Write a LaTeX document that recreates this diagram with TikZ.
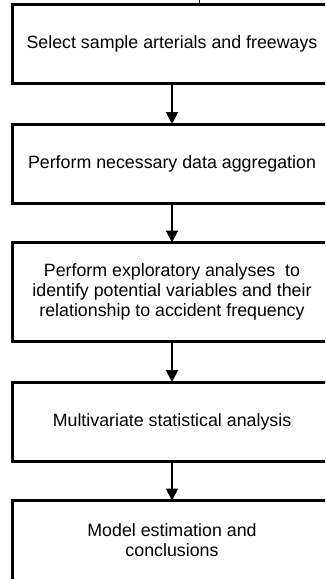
\documentclass[tikz,border=0pt]{standalone}
\usepackage{fontspec}
\setmainfont{Liberation Sans}
\usetikzlibrary{arrows.meta}
\begin{document}
\begin{tikzpicture}[x=1pt,y=-1pt,
  stepbox/.style={draw=black,line width=3pt,minimum width=320pt,align=center,inner sep=0pt,outer sep=0pt,
    font=\fontsize{17.8}{20.2}\selectfont},
  flow/.style={line width=2pt,-{Triangle[width=12pt,length=12pt]}}]
\useasboundingbox (0,0) rectangle (325,579);
\clip (0,0) rectangle (325,579);
\node[stepbox,minimum height=79pt] (s1) at (172,44) {Select sample arterials and freeways};
\node[stepbox,minimum height=79.5pt] (s2) at (172,163.75) {Perform necessary data aggregation};
\node[stepbox,minimum height=99pt] (s3) at (172,292) {Perform exploratory analyses\ \ to\\identify potential variables and their\\relationship to accident frequency};
\node[stepbox,minimum height=79.5pt] (s4) at (172,421.75) {Multivariate statistical analysis};
\node[stepbox,minimum height=80pt] (s5) at (172,540.5) {Model estimation and\\conclusions};
\coordinate (topin) at (199,0);
\draw[line width=1pt] (topin) -- (topin |- s1.north);
\draw[flow] (s1.south) -- (s2.north);
\draw[flow] (s2.south) -- (s3.north);
\draw[flow] (s3.south) -- (s4.north);
\draw[flow] (s4.south) -- (s5.north);
\end{tikzpicture}
\end{document}
